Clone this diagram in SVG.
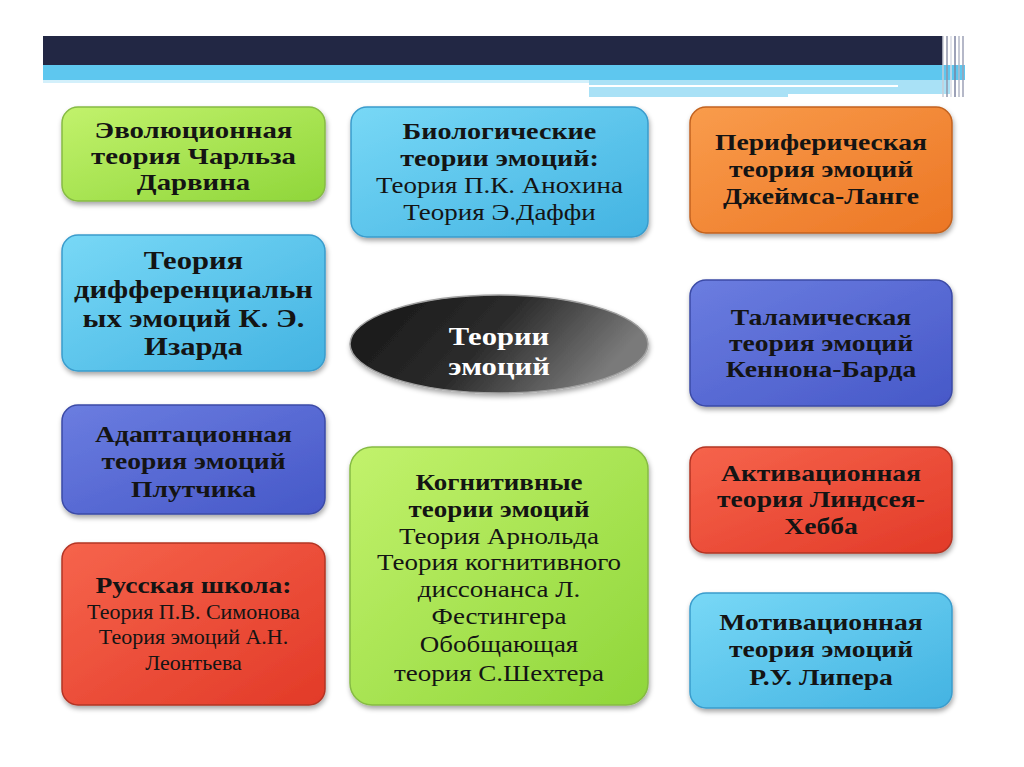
<svg xmlns="http://www.w3.org/2000/svg" width="1024" height="767" viewBox="0 0 1024 767">
<defs>
  <linearGradient id="gGreen" x1="0" y1="0" x2="1" y2="1">
    <stop offset="0" stop-color="#c2f26c"/><stop offset="1" stop-color="#8fd63a"/>
  </linearGradient>
  <linearGradient id="gSky" x1="0" y1="0" x2="1" y2="1">
    <stop offset="0" stop-color="#78d8f6"/><stop offset="1" stop-color="#43b3e2"/>
  </linearGradient>
  <linearGradient id="gIndigo" x1="0" y1="0" x2="1" y2="1">
    <stop offset="0" stop-color="#6b7de0"/><stop offset="1" stop-color="#4658c8"/>
  </linearGradient>
  <linearGradient id="gRed" x1="0" y1="0" x2="1" y2="1">
    <stop offset="0" stop-color="#f6644c"/><stop offset="1" stop-color="#e23a28"/>
  </linearGradient>
  <linearGradient id="gOrange" x1="0" y1="0" x2="1" y2="1">
    <stop offset="0" stop-color="#f99c4c"/><stop offset="1" stop-color="#ec7624"/>
  </linearGradient>
  <linearGradient id="gDark" x1="0" y1="0" x2="1" y2="0.3">
    <stop offset="0" stop-color="#151515"/><stop offset="0.55" stop-color="#2c2c2c"/><stop offset="1" stop-color="#7a7a7a"/>
  </linearGradient>
  <filter id="sh" x="-10%" y="-10%" width="120%" height="130%">
    <feDropShadow dx="1" dy="3" stdDeviation="2.5" flood-color="#000" flood-opacity="0.35"/>
  </filter>
  <style>
    .box { stroke-width: 1.5; filter: url(#sh); }
    .green { fill: url(#gGreen); stroke: #86bb44; }
    .sky { fill: url(#gSky); stroke: #3a9ccc; }
    .indigo { fill: url(#gIndigo); stroke: #3b4aa6; }
    .red { fill: url(#gRed); stroke: #b33424; }
    .orange { fill: url(#gOrange); stroke: #c2621f; }
    text { font-family: "Liberation Serif", "Times New Roman", serif; font-size: 23px; fill: #141414; text-anchor: middle; }
    .b { font-weight: bold; }
    .w { fill: #ffffff; font-size: 25.5px; font-weight: bold; }
  </style>
</defs>
<rect width="1024" height="767" fill="#ffffff"/>

<g id="header">
  <rect x="43" y="36" width="900" height="29" fill="#222744"/>
  <rect x="43" y="65" width="922" height="15" fill="#5ec7ef"/>
  <rect x="43" y="80" width="546" height="3" fill="#d3f0fb"/>
  <rect x="589" y="80" width="361" height="17" fill="#a9e1f6"/>
  <rect x="589" y="85" width="309" height="2" fill="#ffffff"/>
  <rect x="788" y="94" width="162" height="3" fill="#ffffff"/>
  <g stroke-width="1.5">
    <line x1="943" y1="36" x2="943" y2="97" stroke="#c9ccd6"/>
    <line x1="947" y1="36" x2="947" y2="97" stroke="#8f94aa"/>
    <line x1="951" y1="36" x2="951" y2="97" stroke="#d8dbe4"/>
    <line x1="955" y1="36" x2="955" y2="97" stroke="#7d83a0"/>
    <line x1="959" y1="36" x2="959" y2="97" stroke="#b5b9c9"/>
    <line x1="963" y1="36" x2="963" y2="97" stroke="#9ca1b6"/>
  </g>
</g>

<g id="connectors"></g>

<g id="n-darwin">
  <rect class="box green" x="62" y="107" width="263" height="94" rx="16"/>
  <g transform="translate(193.5 0) scale(1.2 1)">
    <text class="b" x="0" y="138" style="font-size:24px">Эволюционная</text>
    <text class="b" x="0" y="164" style="font-size:24px">теория Чарльза</text>
    <text class="b" x="0" y="190" style="font-size:24px">Дарвина</text>
  </g>
</g>

<g id="n-izard">
  <rect class="box sky" x="62" y="235" width="263" height="136" rx="16"/>
  <g transform="translate(193.5 0) scale(1.2 1)">
    <text class="b" x="0" y="269" style="font-size:25.5px">Теория</text>
    <text class="b" x="0" y="298" style="font-size:25.5px">дифференциальн</text>
    <text class="b" x="0" y="327" style="font-size:25.5px">ых эмоций К. Э.</text>
    <text class="b" x="0" y="355" style="font-size:25.5px">Изарда</text>
  </g>
</g>

<g id="n-plutchik">
  <rect class="box indigo" x="62" y="405" width="263" height="109" rx="16"/>
  <g transform="translate(193.5 0) scale(1.2 1)">
    <text class="b" x="0" y="442">Адаптационная</text>
    <text class="b" x="0" y="469">теория эмоций</text>
    <text class="b" x="0" y="497">Плутчика</text>
  </g>
</g>

<g id="n-russian">
  <rect class="box red" x="62" y="543" width="263" height="162" rx="16"/>
  <g transform="translate(193.5 0) scale(1.2 1)">
    <text class="b" x="0" y="593">Русская школа:</text>
  </g>
  <g transform="translate(193.5 0) scale(1.1 1)">
    <text x="0" y="619" style="font-size:20px">Теория П.В. Симонова</text>
    <text x="0" y="644" style="font-size:20px">Теория эмоций А.Н.</text>
    <text x="0" y="670" style="font-size:20px">Леонтьева</text>
  </g>
</g>

<g id="n-bio">
  <rect class="box sky" x="351" y="107" width="297" height="130" rx="16"/>
  <g transform="translate(499.5 0) scale(1.2 1)">
    <text class="b" x="0" y="139" style="font-size:23.5px">Биологические</text>
    <text class="b" x="0" y="166" style="font-size:23.5px">теории эмоций:</text>
    <text x="0" y="193" style="font-size:22.5px">Теория П.К. Анохина</text>
    <text x="0" y="220" style="font-size:22.5px">Теория Э.Даффи</text>
  </g>
</g>

<g id="n-center">
  <ellipse cx="499" cy="344" rx="149" ry="49" fill="url(#gDark)" stroke="#a0a0a0" stroke-width="1.5" filter="url(#sh)"/>
  <g transform="translate(499 0) scale(1.2 1)">
    <text class="w" x="0" y="345">Теории</text>
    <text class="w" x="0" y="375">эмоций</text>
  </g>
</g>

<g id="n-cognitive">
  <rect class="box green" x="350" y="447" width="298" height="258" rx="22"/>
  <g transform="translate(499 0) scale(1.2 1)">
    <text class="b" x="0" y="490" style="font-size:22.5px">Когнитивные</text>
    <text class="b" x="0" y="517" style="font-size:22.5px">теории эмоций</text>
    <text x="0" y="544" style="font-size:22.5px">Теория Арнольда</text>
    <text x="0" y="570" style="font-size:22.5px">Теория когнитивного</text>
    <text x="0" y="597" style="font-size:22.5px">диссонанса Л.</text>
    <text x="0" y="624" style="font-size:22.5px">Фестингера</text>
    <text x="0" y="652" style="font-size:22.5px">Обобщающая</text>
    <text x="0" y="681" style="font-size:22.5px">теория С.Шехтера</text>
  </g>
</g>

<g id="n-james">
  <rect class="box orange" x="690" y="107" width="262" height="126" rx="16"/>
  <g transform="translate(821 0) scale(1.2 1)">
    <text class="b" x="0" y="150">Периферическая</text>
    <text class="b" x="0" y="177">теория эмоций</text>
    <text class="b" x="0" y="204">Джеймса-Ланге</text>
  </g>
</g>

<g id="n-cannon">
  <rect class="box indigo" x="690" y="280" width="262" height="126" rx="16"/>
  <g transform="translate(821 0) scale(1.2 1)">
    <text class="b" x="0" y="325">Таламическая</text>
    <text class="b" x="0" y="351">теория эмоций</text>
    <text class="b" x="0" y="377">Кеннона-Барда</text>
  </g>
</g>

<g id="n-lindsley">
  <rect class="box red" x="690" y="447" width="262" height="106" rx="16"/>
  <g transform="translate(821 0) scale(1.2 1)">
    <text class="b" x="0" y="481">Активационная</text>
    <text class="b" x="0" y="507">теория Линдсея-</text>
    <text class="b" x="0" y="534">Хебба</text>
  </g>
</g>

<g id="n-leeper">
  <rect class="box sky" x="690" y="593" width="262" height="115" rx="16"/>
  <g transform="translate(821 0) scale(1.2 1)">
    <text class="b" x="0" y="630">Мотивационная</text>
    <text class="b" x="0" y="657">теория эмоций</text>
    <text class="b" x="0" y="685">Р.У. Липера</text>
  </g>
</g>
</svg>
